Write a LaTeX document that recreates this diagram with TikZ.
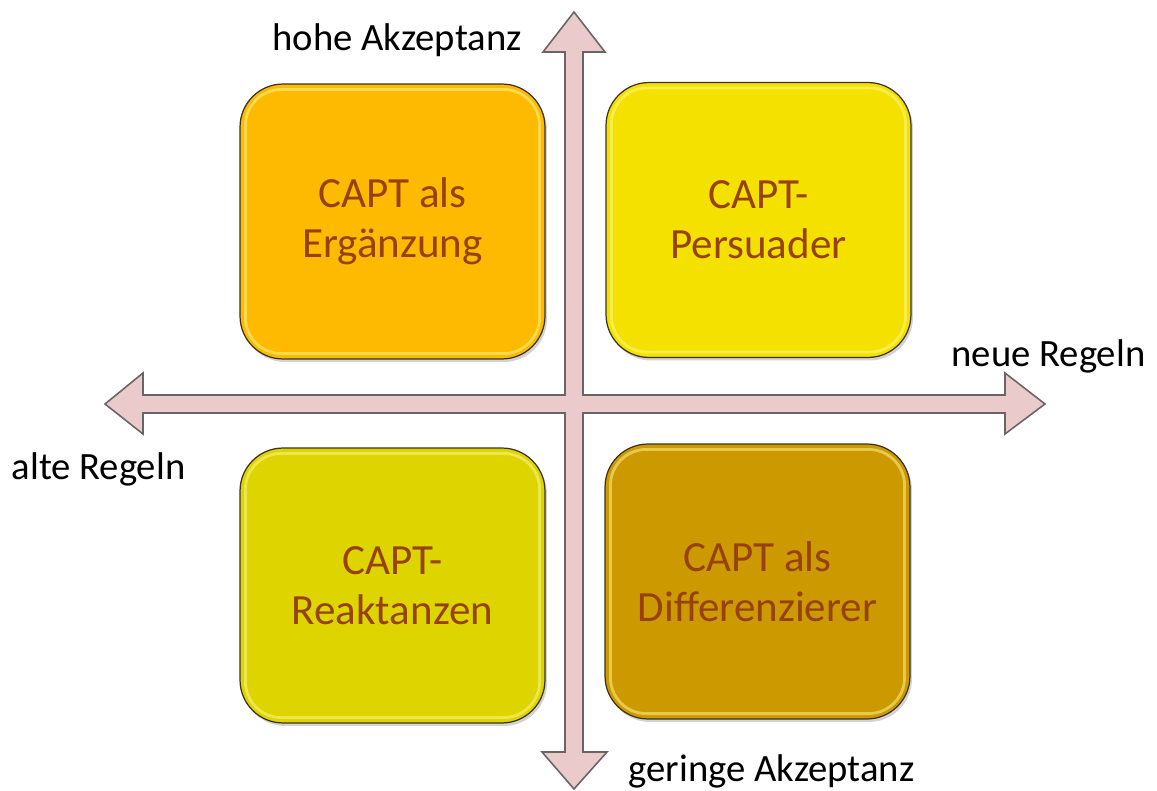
\documentclass[tikz,border=0pt]{standalone}
\usepackage{fontspec}
\setmainfont{Carlito}
\usetikzlibrary{shadows,calc}

\definecolor{arrowfill}{HTML}{EBCACB}
\definecolor{arrowline}{HTML}{6A6466}
\definecolor{boxline}{HTML}{3C3220}
\definecolor{boxtext}{HTML}{96420A}
\definecolor{fillA}{HTML}{FDBA00}
\definecolor{fillB}{HTML}{F4E100}
\definecolor{fillC}{HTML}{DDD400}
\definecolor{fillD}{HTML}{CC9A00}

\tikzset{
  quadbox/.style={draw=boxline, line width=0.7pt, rounded corners=0.86cm,
    minimum width=6.1cm, minimum height=5.5cm, align=center,
    text=boxtext, font=\fontsize{24.5}{28.5}\selectfont,
    drop shadow={shadow xshift=0.04cm, shadow yshift=-0.06cm, opacity=0.35}},
  gloss/.style={draw=yellow!40!white, draw opacity=0.5, line width=1.6pt, rounded corners=0.72cm},
  axislabel/.style={inner sep=0pt, font=\fontsize{22}{26}\selectfont, text=black},
  axisarrow/.style={fill=arrowfill, draw=arrowline, line width=0.9pt, line join=miter}
}

\begin{document}
\begin{tikzpicture}[x=0.02cm, y=-0.02cm]
  \useasboundingbox (0,0) rectangle (1157,791);

  % crossed double arrows drawn as one outline
  \coordinate (top) at (574,12);
  \coordinate (bottom) at (574,789);
  \coordinate (left) at (105,404);
  \coordinate (right) at (1045,404);
  \draw[axisarrow]
    (top) -- (605,52) -- (583,52) -- (583,395) -- (1005,395) -- (1005,373)
    -- (right) -- (1005,434) -- (1005,413) -- (583,413) -- (583,752)
    -- (607,752) -- (bottom) -- (542,752) -- (565,752) -- (565,413)
    -- (143,413) -- (143,434) -- (left) -- (143,373) -- (143,395)
    -- (565,395) -- (565,52) -- (543,52) -- cycle;

  % four quadrant boxes
  \node[quadbox, fill=fillA] (erg) at (392.5,221.5) {CAPT als\\Ergänzung};
  \node[quadbox, fill=fillB] (pers) at (758.5,220) {CAPT-\\Persuader};
  \node[quadbox, fill=fillC] (reak) at (392.5,585.5) {CAPT-\\Reaktanzen};
  \node[quadbox, fill=fillD] (diff) at (757.5,581.5) {CAPT als\\Differenzierer};

  \foreach \b in {erg,pers,reak,diff}{
    \draw[gloss] ($(\b.north west)+(0.12cm,-0.12cm)$) rectangle ($(\b.south east)+(-0.12cm,0.12cm)$);
  }

  % axis labels
  \node[axislabel] (high) at (397,40) {hohe Akzeptanz};
  \node[axislabel] (low) at (771.5,771) {geringe Akzeptanz};
  \node[axislabel] (new) at (1048.5,356) {neue Regeln};
  \node[axislabel] (old) at (98.5,469) {alte Regeln};
\end{tikzpicture}
\end{document}
